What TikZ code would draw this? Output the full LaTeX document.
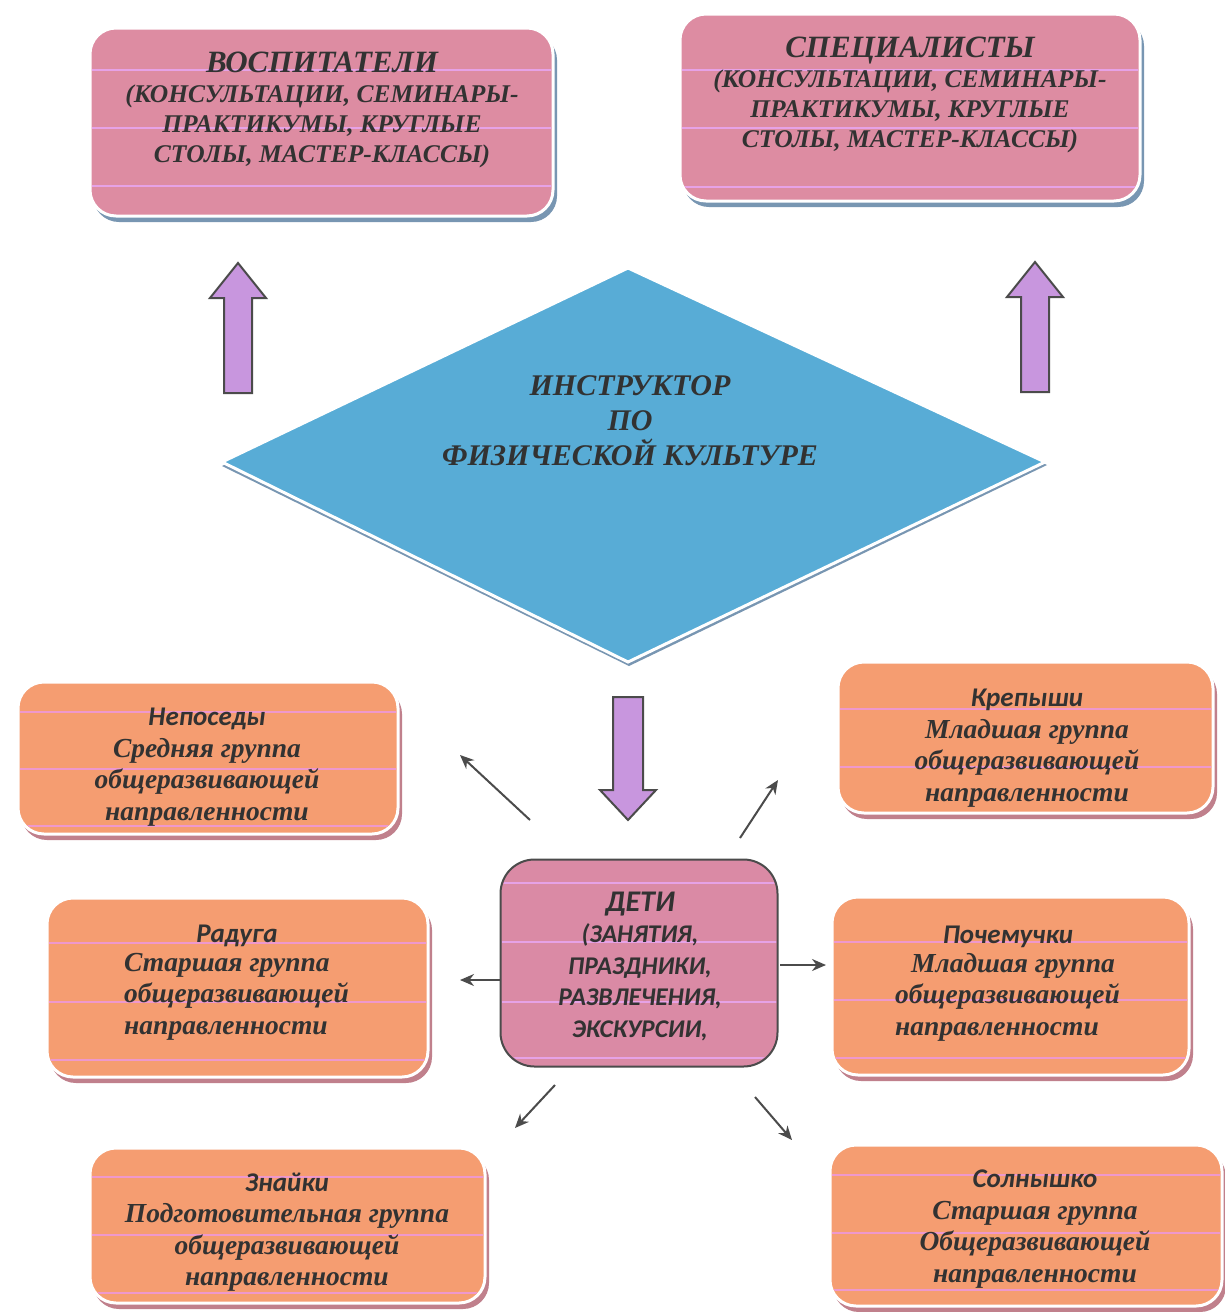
\documentclass[tikz,border=0pt]{standalone}
\usepackage{fontspec}
\setmainfont{Liberation Serif}
\newfontfamily\calfont{Carlito}
\usetikzlibrary{arrows.meta}
\definecolor{pinkbox}{RGB}{221,140,162}
\definecolor{pinkline}{RGB}{230,162,230}
\definecolor{orangebox}{RGB}{245,157,113}
\definecolor{orangeline}{RGB}{238,152,205}
\definecolor{detibox}{RGB}{218,138,165}
\definecolor{bluedia}{RGB}{88,172,214}
\definecolor{arrowfill}{RGB}{200,150,222}
\definecolor{edgecol}{RGB}{75,75,75}
\definecolor{txtcol}{RGB}{50,50,50}
\definecolor{shadowblue}{RGB}{120,150,178}
\definecolor{shadowpink}{RGB}{192,128,140}
\newcommand\sbi[2]{\fontsize{#1}{#2}\selectfont\bfseries\itshape}
\newcommand\cbi[2]{\calfont\fontsize{#1}{#2}\selectfont\bfseries\itshape}
% #1 name, #2 x1, #3 y1, #4 x2, #5 y2, #6 fill, #7 shadow, #8 stripe colour, #9 stripe list
\newcommand\stripebox[9]{%
  \fill[#7, rounded corners=26] (#2+3,#3+6) rectangle (#4+4,#5+6);
  \node[rectangle, rounded corners=26, draw=white, line width=3, fill=#6,
        minimum width={#4-#2}, minimum height={#5-#3}, inner sep=0]
        (#1) at ({(#2+#4)/2},{(#3+#5)/2}) {};
  \begin{scope}
    \clip[rounded corners=24] (#2+2,#3+2) rectangle (#4-2,#5-2);
    \foreach \yy in {#9} \draw[#8, line width=2] (#2,\yy) -- (#4,\yy);
  \end{scope}}
\begin{document}
\begin{tikzpicture}[x=1pt,y=-1pt,
  txt/.style={text=txtcol, align=center, inner sep=0},
  bigarrow/.style={draw=edgecol, line width=2, fill=arrowfill, line join=miter},
  thinarrow/.style={draw=edgecol, line width=2, -{Stealth[length=14,width=12]}}]
\useasboundingbox (0,0) rectangle (1225,1312);
\fill[white] (0,0) rectangle (1225,1312);

% top boxes
\stripebox{vosp}{90}{28}{553}{216}{pinkbox}{shadowblue}{pinkline}{70,128,186}
\node[txt, font=\sbi{25.5}{30}] (vosp-t) at (322,110)
  {{\sbi{31}{32}ВОСПИТАТЕЛИ}\\(КОНСУЛЬТАЦИИ, СЕМИНАРЫ-\\ПРАКТИКУМЫ, КРУГЛЫЕ\\СТОЛЫ, МАСТЕР-КЛАССЫ)};
\stripebox{spec}{680}{14}{1140}{201}{pinkbox}{shadowblue}{pinkline}{70,128,187}
\node[txt, font=\sbi{25.5}{30}] (spec-t) at (910,95)
  {{\sbi{31}{32}СПЕЦИАЛИСТЫ}\\(КОНСУЛЬТАЦИИ, СЕМИНАРЫ-\\ПРАКТИКУМЫ, КРУГЛЫЕ\\СТОЛЫ, МАСТЕР-КЛАССЫ)};

% diamond
\fill[shadowblue] (629,272) -- (1047,465) -- (629,666) -- (222,466) -- cycle;
\draw[white, line width=3, fill=bluedia] (628,268) -- (1045,462) -- (628,662) -- (222,462) -- cycle;
\node[txt, font=\sbi{30}{35}] (instr) at (630,421)
  {ИНСТРУКТОР\\ПО\\ФИЗИЧЕСКОЙ КУЛЬТУРЕ};

% block arrows
\coordinate (upL) at (238,263);
\coordinate (upR) at (1035,262);
\coordinate (dn) at (628,820);
\draw[bigarrow] ([xshift=-14]upL |- 0,393) -- ([xshift=-14]upL |- 0,298) -- ([xshift=-28]upL |- 0,298)
  -- (upL) -- ([xshift=28]upL |- 0,298) -- ([xshift=14]upL |- 0,298) -- ([xshift=14]upL |- 0,393) -- cycle;
\draw[bigarrow] ([xshift=-14]upR |- 0,392) -- ([xshift=-14]upR |- 0,297) -- ([xshift=-28]upR |- 0,297)
  -- (upR) -- ([xshift=28]upR |- 0,297) -- ([xshift=14]upR |- 0,297) -- ([xshift=14]upR |- 0,392) -- cycle;
\draw[bigarrow] ([xshift=-15]dn |- 0,697) -- ([xshift=-15]dn |- 0,790) -- ([xshift=-28]dn |- 0,790)
  -- (dn) -- ([xshift=28]dn |- 0,790) -- ([xshift=15]dn |- 0,790) -- ([xshift=15]dn |- 0,697) -- cycle;

% centre box
\node[rectangle, rounded corners=34, draw=edgecol, line width=2, fill=detibox,
      minimum width=277, minimum height=207, inner sep=0] (deti) at (639,963) {};
\begin{scope}
  \clip[rounded corners=33] (502,861) rectangle (776,1065);
  \foreach \yy in {883,942,1002,1058} \draw[pinkline, line width=2] (500,\yy) -- (780,\yy);
\end{scope}
\node[txt, font=\cbi{25.5}{31.5}] (deti-t) at (640,966)
  {{\cbi{30}{31.5}ДЕТИ}\\(ЗАНЯТИЯ,\\ПРАЗДНИКИ,\\РАЗВЛЕЧЕНИЯ,\\ЭКСКУРСИИ,};

% orange boxes
\stripebox{nep}{18}{682}{398}{834}{orangebox}{shadowpink}{orangeline}{712,769,826}
\node[txt, font=\sbi{27.5}{31.5}] (nep-t) at (207,767)
  {{\cbi{27}{31.5}Непоседы}\\Средняя группа\\общеразвивающей\\направленности};

\stripebox{krep}{838}{662}{1213}{813}{orangebox}{shadowpink}{orangeline}{709,767}
\node[txt, font=\sbi{27.5}{31.5}] (krep-t) at (1027,748)
  {{\cbi{27}{31.5}Крепыши}\\Младшая группа\\общеразвивающей\\направленности};

\stripebox{rad}{47}{898}{428}{1077}{orangebox}{shadowpink}{orangeline}{943,1002,1060}
\node[txt, font=\cbi{27}{31.5}] (rad-h) at (237,936) {Радуга};
\node[txt, font=\sbi{27.5}{31.5}, align=left, anchor=north west] (rad-t) at (124,953)
  {Старшая группа\\общеразвивающей\\направленности};

\stripebox{poch}{832}{897}{1189}{1075}{orangebox}{shadowpink}{orangeline}{942,1000,1058}
\node[txt, font=\cbi{27}{31.5}] (poch-h) at (1008,937) {Почемучки};
\node[txt, font=\sbi{27.5}{31.5}, align=left, anchor=north west] (poch-t) at (895,953)
  {\hspace*{16pt}Младшая группа\\общеразвивающей\\направленности};

\stripebox{znai}{90}{1148}{485}{1303}{orangebox}{shadowpink}{orangeline}{1177,1235,1293}
\node[txt, font=\sbi{27.5}{31.5}] (znai-t) at (287,1232)
  {{\cbi{27}{31.5}Знайки}\\Подготовительная группа\\общеразвивающей\\направленности};

\stripebox{soln}{830}{1145}{1222}{1306}{orangebox}{shadowpink}{orangeline}{1175,1233,1290}
\node[txt, font=\sbi{27.5}{31.5}] (soln-t) at (1035,1229)
  {{\cbi{27}{31.5}Солнышко}\\Старшая группа\\Общеразвивающей\\направленности};

% thin arrows
\coordinate (a1s) at (530,820); \coordinate (a1e) at (460,755);
\coordinate (a2s) at (740,838); \coordinate (a2e) at (778,780);
\coordinate (a3s) at (500,980); \coordinate (a3e) at (460,980);
\coordinate (a4s) at (780,965); \coordinate (a4e) at (826,965);
\coordinate (a5s) at (555,1085); \coordinate (a5e) at (515,1128);
\coordinate (a6s) at (755,1097); \coordinate (a6e) at (792,1140);
\draw[thinarrow] (a1s) -- (a1e);
\draw[thinarrow] (a2s) -- (a2e);
\draw[thinarrow] (a3s) -- (a3e);
\draw[thinarrow] (a4s) -- (a4e);
\draw[thinarrow] (a5s) -- (a5e);
\draw[thinarrow] (a6s) -- (a6e);
\end{tikzpicture}
\end{document}
